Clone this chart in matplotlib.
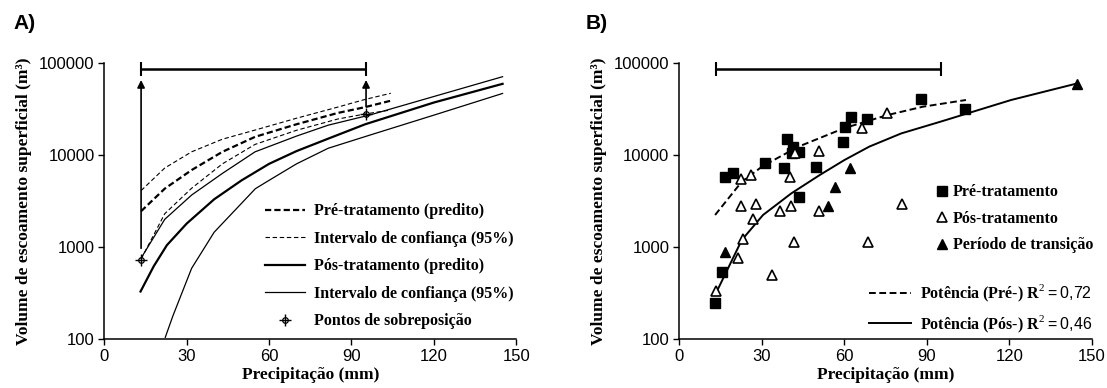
import numpy as np
import matplotlib
matplotlib.use("Agg")
import matplotlib.pyplot as plt
from matplotlib.lines import Line2D
from matplotlib.legend_handler import HandlerTuple

plt.rcParams['font.family'] = ['Liberation Sans', 'DejaVu Sans']
plt.rcParams['mathtext.fontset'] = 'custom'
plt.rcParams['mathtext.rm'] = 'Liberation Serif'
plt.rcParams['mathtext.sf'] = 'Liberation Sans'

# ---- painel A: curvas preditas e intervalos de confiança ----
pre_x = [13.4, 22, 31.8, 43, 54.9, 70, 85, 95, 104.3]
pre_pred = [2450, 4300, 6850, 10800, 15700, 21500, 28500, 33000, 38700]
pre_sup = [4100, 7200, 10800, 14800, 18600, 25000, 33000, 40000, 46600]
pre_inf = [740, 2300, 4350, 8000, 13000, 18500, 24500, 27800, 30700]

pos_x = [13.2, 18, 22.8, 30, 40, 50, 60, 70, 81.5, 95, 120, 145]
pos_pred = [330, 620, 1050, 1800, 3300, 5300, 8000, 11000, 15000, 21500, 37000, 59000]
pos_sup_x = [13.4, 22, 31.8, 43, 54.9, 70, 81.5, 96.7, 120, 145]
pos_sup = [760, 2000, 3670, 6300, 10800, 16000, 21000, 27100, 43000, 70500]
pos_inf_x = [22.2, 25, 31.8, 40, 55, 60, 70, 81.5, 96.7, 120, 145]
pos_inf = [105, 180, 589, 1450, 4300, 5300, 8000, 11800, 16400, 27000, 46400]

sobrepos_x = [13.4, 95.3]
sobrepos_y = [720, 27800]
seta_base = [970, 33300]
seta_topo = 64900
barra_y = 84700

# ---- painel B: eventos observados ----
pre_obs_x = [12.9, 15.7, 16.7, 19.6, 31.2, 38.2, 39.3, 41.5, 41.1, 43.4, 43.6,
             49.8, 59.6, 60.1, 62.4, 68.2, 87.8, 103.9]
pre_obs_y = [246, 533, 5800, 6400, 8240, 7150, 14750, 12300, 10400, 10800, 3520,
             7450, 13900, 20200, 26000, 24300, 40400, 31200]
pos_obs_x = [13.4, 21.5, 23.4, 22.5, 26.0, 22.5, 27.9, 27.0, 33.7, 36.7, 40.6,
             40.4, 41.6, 42.1, 50.7, 50.7, 66.3, 68.8, 75.6, 81.0]
pos_obs_y = [334, 757, 1215, 5480, 6050, 2790, 2940, 2000, 494, 2490, 2790,
             5710, 1145, 10600, 11100, 2490, 19600, 1140, 28200, 2960]
trans_x = [16.7, 54.1, 56.5, 62.1, 144.7]
trans_y = [894, 2790, 4530, 7280, 58800]

fit_pre_x = [13.1, 22.8, 30.5, 43.4, 60, 75.6, 88.5, 104.2]
fit_pre_y = [2230, 5130, 7600, 12300, 19500, 27000, 33300, 39400]
fit_pos_x = [13.4, 22.8, 30.5, 40.8, 51.1, 60.1, 69.1, 80.7, 94.9, 120.6, 144.7]
fit_pos_y = [316, 1195, 2230, 3830, 6050, 8810, 12300, 17100, 22900, 39400, 59700]

r2_pre = '0{,}72'
r2_pos = '0{,}46'

xticks = [0, 30, 60, 90, 120, 150]
yticks = [100, 1000, 10000, 100000]
ylabels = ['100', '1000', '10000', '100000']

serif_b = dict(family='Liberation Serif', weight='bold', size=11.5)
rotulo_b = dict(family='Liberation Serif', weight='bold', size=12.5)

fig = plt.figure(figsize=(11.07, 3.88), dpi=100)
axA = fig.add_axes([0.0942, 0.1255, 0.3722, 0.7129])
axB = fig.add_axes([0.6134, 0.1255, 0.3731, 0.7129])


def estilo(ax):
    ax.set_yscale('log')
    ax.set_xlim(0, 150)
    ax.set_ylim(100, 100000)
    ax.set_xticks(xticks)
    ax.set_yticks(yticks)
    ax.set_yticklabels(ylabels)
    ax.minorticks_off()
    for s in ['top', 'right']:
        ax.spines[s].set_visible(False)
    for s in ['left', 'bottom']:
        ax.spines[s].set_linewidth(1.1)
    ax.tick_params(direction='out', length=4, width=1.0, labelsize=12, pad=3)
    ax.set_xlabel('Precipitação (mm)', fontdict=rotulo_b, labelpad=2)
    ax.set_ylabel('Volume de escoamento superficial (m³)', fontdict=rotulo_b, labelpad=5)


estilo(axA)
estilo(axB)

tracejado_g = (0, (2.8, 1.4))
tracejado_f = (0, (4, 2.4))

# Painel A
axA.plot(pre_x, pre_pred, color='k', lw=1.6, ls=tracejado_g)
axA.plot(pre_x, pre_sup, color='k', lw=0.8, ls=tracejado_f)
axA.plot(pre_x, pre_inf, color='k', lw=0.8, ls=tracejado_f)
axA.plot(pos_x, pos_pred, color='k', lw=1.6)
axA.plot(pos_sup_x, pos_sup, color='k', lw=0.9)
axA.plot(pos_inf_x, pos_inf, color='k', lw=0.9)

for xs, yb in zip(sobrepos_x, seta_base):
    axA.annotate('', xy=(xs, seta_topo), xytext=(xs, yb),
                 arrowprops=dict(arrowstyle='-|>', color='k', lw=1.2,
                                 mutation_scale=11, shrinkA=0, shrinkB=0))
axA.plot(sobrepos_x, sobrepos_y, ls='none', marker='+', ms=8, mew=1.0, color='k')
axA.plot(sobrepos_x, sobrepos_y, ls='none', marker='o', ms=4, mfc='none', mew=0.9, color='k')

for ax in (axA, axB):
    ax.hlines(barra_y, sobrepos_x[0], sobrepos_x[1], color='k', lw=1.8)
    ax.vlines(sobrepos_x, 71000, 101000, color='k', lw=1.5, clip_on=False)

hA = [
    Line2D([], [], color='k', lw=1.6, ls=tracejado_g),
    Line2D([], [], color='k', lw=0.8, ls=tracejado_f),
    Line2D([], [], color='k', lw=1.6),
    Line2D([], [], color='k', lw=0.9),
    (Line2D([], [], ls='none', marker='+', ms=8, mew=1.0, color='k'),
     Line2D([], [], ls='none', marker='o', ms=4, mfc='none', mew=0.9, color='k')),
]
lA = ['Pré-tratamento (predito)', 'Intervalo de confiança (95%)',
      'Pós-tratamento (predito)', 'Intervalo de confiança (95%)',
      'Pontos de sobreposição']
axA.legend(hA, lA, loc='upper left', bbox_to_anchor=(0.39, 0.492), frameon=False,
           prop=serif_b, handlelength=2.5, handletextpad=0.6, labelspacing=0.72,
           borderpad=0, borderaxespad=0,
           handler_map={tuple: HandlerTuple(ndivide=1)})

# Painel B
axB.plot(fit_pre_x, fit_pre_y, color='k', lw=1.4, ls=(0, (3.5, 1.8)))
axB.plot(fit_pos_x, fit_pos_y, color='k', lw=1.4)
axB.plot(pre_obs_x, pre_obs_y, ls='none', marker='s', ms=7, color='k')
axB.plot(pos_obs_x, pos_obs_y, ls='none', marker='^', ms=7.5, mfc='white',
         mec='k', mew=1.2)
axB.plot(trans_x, trans_y, ls='none', marker='^', ms=7.5, color='k', clip_on=False)

hB1 = [
    Line2D([], [], ls='none', marker='s', ms=7, color='k'),
    Line2D([], [], ls='none', marker='^', ms=7.5, mfc='white', mec='k', mew=1.2),
    Line2D([], [], ls='none', marker='^', ms=7.5, color='k'),
]
leg1 = axB.legend(hB1, ['Pré-tratamento', 'Pós-tratamento', 'Período de transição'],
                  loc='upper left', bbox_to_anchor=(0.62, 0.56), frameon=False,
                  prop=serif_b, handlelength=0.9, handletextpad=0.2,
                  labelspacing=0.65, borderpad=0, borderaxespad=0)
axB.add_artist(leg1)

hB2 = [
    Line2D([], [], color='k', lw=1.4, ls=(0, (3.5, 1.8))),
    Line2D([], [], color='k', lw=1.4),
]
lB2 = ['Potência (Pré-) R$^{2}$$\\mathsf{=0' + r2_pre[1:] + '}$',
       'Potência (Pós-) R$^{2}$$\\mathsf{=0' + r2_pos[1:] + '}$']
axB.legend(hB2, lB2, loc='upper left', bbox_to_anchor=(0.46, 0.205), frameon=False,
           prop=serif_b, handlelength=2.6, handletextpad=0.6, labelspacing=0.6,
           borderpad=0, borderaxespad=0)

fig.text(0.0125, 0.939, 'A)', fontsize=15, weight='bold', va='center')
fig.text(0.529, 0.939, 'B)', fontsize=15, weight='bold', va='center')

fig.savefig('out.png', dpi=100)
